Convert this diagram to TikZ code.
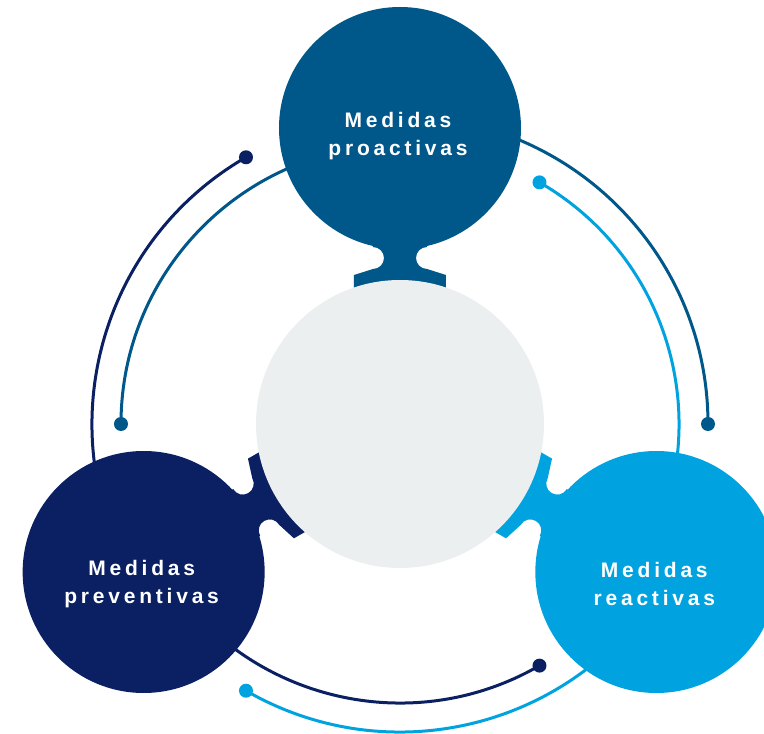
\documentclass[tikz,border=0pt]{standalone}
\usepackage{fontspec}
\newfontfamily\labelfont{Liberation Sans}[LetterSpace=18]
\definecolor{proactive}{HTML}{00578A}
\definecolor{preventive}{HTML}{0A2063}
\definecolor{reactive}{HTML}{00A3E0}
\definecolor{hub}{HTML}{ECEFF0}
\def\orbit{296}
\def\outerring{308}
\def\innerring{279}

\begin{document}
\begin{tikzpicture}[x=1pt,y=1pt]
    \tikzstyle{measure}=[circle,minimum size=242pt,inner sep=0pt]
    \tikzstyle{measure text}=[text=white,align=center,font=\labelfont\bfseries\fontsize{21}{28.5}\selectfont]
    \tikzstyle{ring}=[line width=3pt]
    \tikzstyle{ring end}=[circle,minimum size=14pt,inner sep=0pt]
    \useasboundingbox (-400,-310) rectangle (364,424);

    % Draw the rings behind the circles
    \foreach \col / \a in {proactive/90,preventive/210,reactive/330} {
        \path (\a:\innerring) coordinate (\col-a) (\a:\outerring) coordinate (\col-b);
        \draw[ring,\col] (\col-a) arc[start angle=\a,end angle=\a+90,radius=\innerring]
            node[ring end,fill=\col] (\col-in) {};
        \draw[ring,\col] (\col-b) arc[start angle=\a,end angle=\a-90,radius=\outerring]
            node[ring end,fill=\col] (\col-out) {};
    }

    % Draw the necks that join every circle to the hub
    \foreach \col / \a in {proactive/90,preventive/210,reactive/330} {
        \begin{scope}[rotate=\a-90]
            \fill[\col] (-46,130) -- (46,130) -- (46,149) -- (27,155)
                arc[start angle=-90,end angle=-270,radius=11] -- (27,192)
                -- (-27,192) -- (-27,177)
                arc[start angle=90,end angle=-90,radius=11] -- (-46,149) -- cycle;
        \end{scope}
    }

    % Draw the hub and the three measures
    \node[measure,fill=hub,minimum size=288pt] (hub) at (0,0) {};
    \node[measure,fill=proactive] (pro) at (90:\orbit) {};
    \node[measure,fill=preventive] (prev) at (210:\orbit) {};
    \node[measure,fill=reactive] (reac) at (330:\orbit) {};

    % Annotate the measures
    \node[measure text] (pro-text) at ([xshift=-2pt,yshift=-8pt]pro.center) {Medidas\\proactivas};
    \node[measure text] (prev-text) at ([xshift=-2pt,yshift=-12pt]prev.center) {Medidas\\preventivas};
    \node[measure text] (reac-text) at ([xshift=-2pt,yshift=-12pt]reac.center) {Medidas\\reactivas};

\end{tikzpicture}
\end{document}
